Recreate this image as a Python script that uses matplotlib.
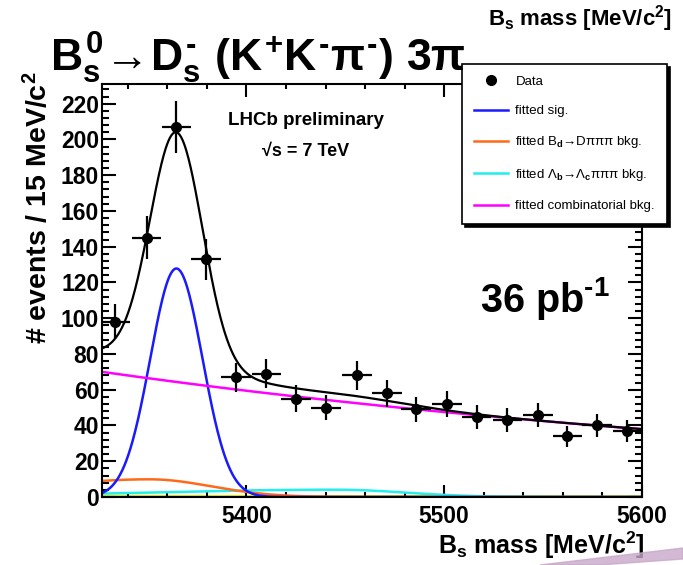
import numpy as np
import matplotlib
matplotlib.use("Agg")
import matplotlib.pyplot as plt
from matplotlib.ticker import MultipleLocator
from matplotlib.lines import Line2D
from matplotlib.patches import Polygon

plt.rcParams['font.family'] = ['Liberation Sans', 'DejaVu Sans']
plt.rcParams['font.weight'] = 'bold'
plt.rcParams['axes.labelweight'] = 'bold'
plt.rcParams['mathtext.fontset'] = 'custom'
plt.rcParams['mathtext.rm'] = 'Liberation Sans:bold'
plt.rcParams['mathtext.it'] = 'Liberation Sans:bold'
plt.rcParams['mathtext.bf'] = 'Liberation Sans:bold'

# Bs -> Ds 3pi candidates, 15 MeV bins
mass = [5333.8, 5349.5, 5364.6, 5379.6, 5394.9, 5410.1, 5425.1, 5440.4, 5455.9,
        5471.1, 5485.9, 5501.4, 5516.4, 5532.0, 5547.3, 5562.3, 5577.4, 5592.6]
counts = [98, 145, 207, 133, 67, 69, 55, 50, 68, 58, 49, 52, 45, 43, 46, 34, 40, 37]
bin_half = 7.5

# fitted components
mass_range = (5327, 5600)
sig_amp, sig_mean, sig_width = 127.8, 5364.6, 13.2
bd_amp, bd_mean, bd_wl, bd_wr = 9.9, 5351.0, 55.0, 31.0
lb_amp, lb_mean, lb_wl, lb_wr = 4.1, 5445.0, 95.0, 35.0
comb_amp, comb_slope = 70.0, -0.00224

legend_labels = ['Data', 'fitted sig.', 'fitted B$_d$\u2192D\u03c0\u03c0\u03c0 bkg.',
                 'fitted \u039b$_b$\u2192\u039b$_c$\u03c0\u03c0\u03c0 bkg.',
                 'fitted combinatorial bkg.']


def bifur_gauss(x, amp, mean, wl, wr):
    w = np.where(x < mean, wl, wr)
    return amp * np.exp(-0.5 * ((x - mean) / w) ** 2)


x = np.linspace(mass_range[0], mass_range[1], 800)
sig = sig_amp * np.exp(-0.5 * ((x - sig_mean) / sig_width) ** 2)
bd = bifur_gauss(x, bd_amp, bd_mean, bd_wl, bd_wr)
lb = bifur_gauss(x, lb_amp, lb_mean, lb_wl, lb_wr)
comb = comb_amp * np.exp(comb_slope * (x - mass_range[0]))
total = sig + bd + lb + comb

fig = plt.figure(figsize=(6.83, 5.65), dpi=100)
ax = fig.add_axes([102 / 683, 1 - 497 / 565, 540 / 683, 413 / 565])

ax.plot(x, np.zeros_like(x), color='#c8ee00', lw=3.5, zorder=1.5)
l_lb, = ax.plot(x, lb, color='#22eeee', lw=1.8)
l_bd, = ax.plot(x, bd, color='#ff6a1a', lw=1.8)
l_sig, = ax.plot(x, sig, color='#1a1aff', lw=1.8)
l_comb, = ax.plot(x, comb, color='#ff00ff', lw=1.8)
ax.plot(x, total, color='black', lw=1.6)

counts = np.array(counts)
ax.errorbar(mass, counts, xerr=bin_half, yerr=np.sqrt(counts), fmt='o', color='black',
            ms=7, elinewidth=1.6, capsize=0, zorder=3)

ax.set_xlim(*mass_range)
ax.set_ylim(0, 231)
ax.xaxis.set_major_locator(MultipleLocator(100))
ax.xaxis.set_minor_locator(MultipleLocator(20))
ax.yaxis.set_major_locator(MultipleLocator(20))
ax.yaxis.set_minor_locator(MultipleLocator(4))
ax.tick_params(which='both', direction='in', top=True, right=True, width=1.5,
               labelsize=16.5, pad=3)
ax.tick_params(axis='x', which='major', length=9, pad=6)
ax.tick_params(axis='x', which='minor', length=3.5)
ax.tick_params(axis='y', which='major', length=10, pad=2)
ax.tick_params(axis='y', which='minor', length=5)
for sp in ax.spines.values():
    sp.set_linewidth(1.5)

ax.set_xlabel('B$_s$ mass [MeV/c$^2$]', fontsize=18, loc='right')
ax.xaxis.set_label_coords(1.005, -0.08)
ax.set_ylabel('# events / 15 MeV/c$^2$', fontsize=20.5, loc='top')
ax.yaxis.set_label_coords(-0.091, 1.03)

ax.text(5430, 210.5, 'LHCb preliminary', fontsize=13.5, ha='center', va='center')
ax.text(5430, 193.5, '\u221as = 7 TeV', fontsize=13, ha='center', va='center')
ax.text(5551, 111, r'36 pb$^{\text{-1}}$', fontsize=28.5, ha='center', va='center')

handles = [Line2D([], [], marker='o', ls='none', color='black', ms=7),
           l_sig, l_bd, l_lb, l_comb]
leg = ax.legend(handles, legend_labels, loc='upper left',
                bbox_to_anchor=(462 / 683, 1 - 64 / 565), bbox_transform=fig.transFigure,
                borderaxespad=0, fancybox=False, shadow={'color': 'black', 'alpha': 1},
                prop={'size': 9.5, 'weight': 'normal'}, labelspacing=1.28,
                handlelength=2.6, handletextpad=0.55, borderpad=0.9, framealpha=1)
leg.get_frame().set_edgecolor('black')
leg.get_frame().set_linewidth(1.2)

fig.text(50 / 683, 1 - 72 / 565,
         r'$B_s^{0}\!\rightarrow\!D_s^{\text{-}}\ (K^{+}K^{\text{-}}\pi^{\text{-}})\ 3\pi$',
         fontsize=32, ha='left', va='baseline')
fig.text(672 / 683, 1 - 26 / 565, 'B$_s$ mass [MeV/c$^2$]', fontsize=16,
         ha='right', va='baseline')

# purple streak along the bottom right corner
fig.patches.append(Polygon([(540 / 683, 0), (1, 17 / 565), (1, 6 / 565), (600 / 683, 0)],
                           closed=True, transform=fig.transFigure,
                           color='#c8a8c8', alpha=0.8, zorder=0))

fig.savefig('out.png', dpi=100)
